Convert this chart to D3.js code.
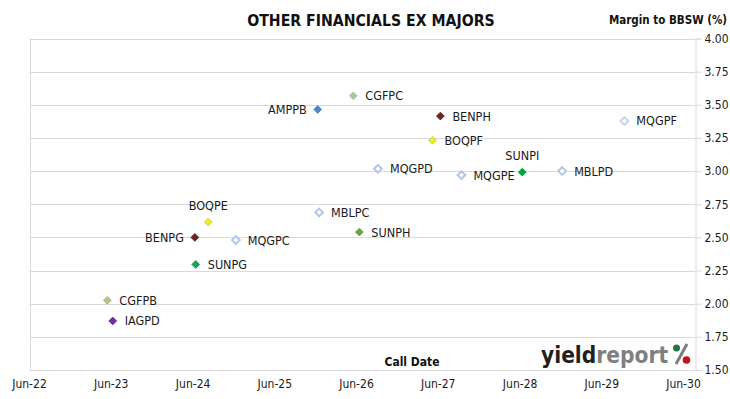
<!DOCTYPE html>
<html>
<head>
<meta charset="utf-8">
<script src="https://cdn.jsdelivr.net/npm/d3@7"></script>
<style>
  body { margin: 0; background: #fff; }
  svg text { font-family: "Liberation Sans Narrow", "DejaVu Sans Condensed", "Liberation Sans", sans-serif; }
</style>
</head>
<body>
<div id="chart"></div>
<script>
// securities, call dates and margins
var names   = ["CGFPC", "AMPPB", "BENPH", "BOQPF", "MQGPF", "MQGPD", "MQGPE", "SUNPI", "MBLPD",
               "BOQPE", "MBLPC", "BENPG", "MQGPC", "SUNPH", "SUNPG", "CGFPB", "IAGPD"]
var callDates = ["2026-05-20", "2025-12-12", "2027-06-13", "2027-05-09", "2029-09-12", "2026-09-07",
                 "2027-09-15", "2028-06-13", "2028-12-08", "2024-08-10", "2025-12-18", "2024-06-11",
                 "2024-12-11", "2026-06-16", "2024-06-15", "2023-05-17", "2023-06-10"]
var margins = [3.568, 3.465, 3.415, 3.232, 3.378, 3.017, 2.970, 2.992, 3.000,
               2.616, 2.688, 2.500, 2.480, 2.540, 2.296, 2.025, 1.870]
var xTickLabels = ["Jun-22", "Jun-23", "Jun-24", "Jun-25", "Jun-26", "Jun-27", "Jun-28", "Jun-29", "Jun-30"]
var yTicks = [1.50, 1.75, 2.00, 2.25, 2.50, 2.75, 3.00, 3.25, 3.50, 3.75, 4.00]

// marker styles
var fills = {
  CGFPC: "#b3c97c", AMPPB: "#4f86c6", BENPH: "#6b2424", BOQPF: "#f0f000", MQGPF: "#ffffff",
  MQGPD: "#ffffff", MQGPE: "#ffffff", SUNPI: "#00a83a", MBLPD: "#ffffff", BOQPE: "#f5f000",
  MBLPC: "#ffffff", BENPG: "#6b2424", MQGPC: "#ffffff", SUNPH: "#6aa43e", SUNPG: "#10a850",
  CGFPB: "#b3c97c", IAGPD: "#7030a0"
}
var strokes = {
  CGFPC: "#9cc0e0", AMPPB: "#4f86c6", BENPH: "#6b2424", BOQPF: "#c8c890", MQGPF: "#c6d5ee",
  MQGPD: "#b4c6e6", MQGPE: "#b4c6e6", SUNPI: "#00a83a", MBLPD: "#b4c6e6", BOQPE: "#c8c890",
  MBLPC: "#b4c6e6", BENPG: "#6b2424", MQGPC: "#b4c6e6", SUNPH: "#6aa43e", SUNPG: "#10a850",
  CGFPB: "#9cb0c8", IAGPD: "#7030a0"
}
var labelLeft = ["AMPPB", "BENPG"]
var labelAbove = ["BOQPE", "SUNPI"]

var width = 730, height = 399
var parse = d3.timeParse("%Y-%m-%d")
var data = names.map(function(n, i) {
  return {name: n, date: parse(callDates[i]), margin: margins[i]}
})

var x = d3.scaleTime()
  .domain([parse("2022-06-01"), parse("2030-06-01")])
  .range([29, 683])
var y = d3.scaleLinear()
  .domain([1.5, 4.0])
  .range([370, 38.5])

var plotLeft = 30, plotRight = 695

var svg = d3.select("#chart").append("svg")
  .attr("width", width)
  .attr("height", height)

// gridlines
svg.append("g").selectAll("line")
  .data(yTicks)
  .enter().append("line")
  .attr("x1", plotLeft)
  .attr("x2", plotRight)
  .attr("y1", function(d) { return Math.round(y(d)) + 0.5 })
  .attr("y2", function(d) { return Math.round(y(d)) + 0.5 })
  .attr("stroke", "#d9d9d9")
  .attr("stroke-width", 1)

// left border and right axis line
svg.append("line")
  .attr("x1", plotLeft + 0.5).attr("x2", plotLeft + 0.5)
  .attr("y1", y(4)).attr("y2", y(1.5) + 0.5)
  .attr("stroke", "#d9d9d9")

var yAxis = d3.axisRight(y)
  .tickValues(yTicks)
  .tickFormat(d3.format(".2f"))
  .tickSize(6)
  .tickPadding(3)
var gy = svg.append("g")
  .attr("transform", "translate(" + (plotRight + 0.5) + ",0)")
  .call(yAxis)
gy.select(".domain").attr("stroke", "#d9d9d9")
gy.selectAll(".tick line").attr("stroke", "#d9d9d9")
gy.selectAll(".tick text")
  .attr("fill", "#1a1a1a")
  .style("font-size", "12px")

// x axis labels (no line)
var xAxis = d3.axisBottom(x)
  .tickValues(xTickLabels.map(function(t, i) { return parse((2022 + i) + "-06-01") }))
  .tickFormat(function(d, i) { return xTickLabels[i] })
  .tickSize(0)
  .tickPadding(9)
var gx = svg.append("g")
  .attr("transform", "translate(0," + 370 + ")")
  .call(xAxis)
gx.select(".domain").remove()
gx.selectAll(".tick text")
  .attr("fill", "#1a1a1a")
  .style("font-size", "12px")

// titles
svg.append("text")
  .attr("x", 371).attr("y", 26)
  .attr("text-anchor", "middle")
  .style("font-size", "15.7px")
  .style("font-weight", "bold")
  .attr("fill", "#111")
  .text("OTHER FINANCIALS EX MAJORS")

svg.append("text")
  .attr("x", 727).attr("y", 24)
  .attr("text-anchor", "end")
  .style("font-size", "11.5px")
  .style("font-weight", "bold")
  .attr("fill", "#111")
  .text("Margin to BBSW (%)")

svg.append("text")
  .attr("x", 412).attr("y", 366)
  .attr("text-anchor", "middle")
  .style("font-size", "12px")
  .style("font-weight", "bold")
  .attr("fill", "#111")
  .text("Call Date")

// logo
var logo = svg.append("text")
  .attr("x", 541).attr("y", 363)
  .style("font-size", "22.5px")
  .style("font-weight", "bold")
logo.append("tspan").attr("fill", "#231f20").text("yield")
logo.append("tspan").attr("fill", "#7f7f7f").text("report")
var pc = svg.append("g").attr("transform", "translate(681,354)")
pc.append("line")
  .attr("x1", 6).attr("y1", -10).attr("x2", -5).attr("y2", 10)
  .attr("stroke", "#7f7f7f").attr("stroke-width", 3)
pc.append("circle").attr("cx", -4.5).attr("cy", -6).attr("r", 3.5)
  .attr("fill", "#1e7a3a")
pc.append("circle").attr("cx", 5.5).attr("cy", 6).attr("r", 3.8)
  .attr("fill", "#c0141e")

// markers
var diamond = d3.symbol().type(d3.symbolDiamond2).size(38)
var pts = svg.append("g").selectAll("g")
  .data(data)
  .enter().append("g")
  .attr("transform", function(d) { return "translate(" + x(d.date) + "," + y(d.margin) + ")" })

pts.append("path")
  .attr("d", diamond)
  .attr("fill", function(d) { return fills[d.name] })
  .attr("stroke", function(d) { return strokes[d.name] })
  .attr("stroke-width", function(d) { return fills[d.name] == "#ffffff" ? 2 : 1 })

pts.append("text")
  .attr("x", function(d) {
    if (labelLeft.indexOf(d.name) != -1) return -11
    if (labelAbove.indexOf(d.name) != -1) return 0
    return 12
  })
  .attr("y", function(d) { return labelAbove.indexOf(d.name) != -1 ? -12 : 4.5 })
  .attr("text-anchor", function(d) {
    if (labelLeft.indexOf(d.name) != -1) return "end"
    if (labelAbove.indexOf(d.name) != -1) return "middle"
    return "start"
  })
  .style("font-size", "12.5px")
  .attr("fill", "#1a1a1a")
  .text(function(d) { return d.name })
</script>
</body>
</html>
